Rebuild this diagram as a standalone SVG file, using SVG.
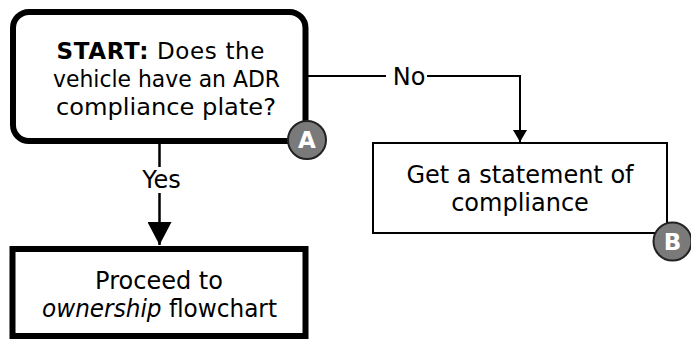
<svg xmlns="http://www.w3.org/2000/svg" width="691" height="343" viewBox="0 0 691 343">
  <style>
    text { font-family: "DejaVu Sans", Verdana, "Liberation Sans", sans-serif; fill: #000; }
    .lbl { font-size: 24px; text-anchor: middle; }
    .q { font-size: 23px; }
    .box { fill: #fff; stroke: #000; }
    .wire { fill: none; stroke: #000; }
    .badge circle { fill: #7a7a7a; stroke: #222; stroke-width: 2; }
    .badge text { fill: #fff; font-weight: bold; font-size: 23px; text-anchor: middle; }
  </style>
  <defs>
    <marker id="headBig" markerUnits="userSpaceOnUse" markerWidth="24" markerHeight="24" viewBox="0 0 22 23" refX="22" refY="11.5" orient="auto">
      <path d="M0,0 L22,11.5 L0,23 Z" fill="#000"/>
    </marker>
    <marker id="headSmall" markerUnits="userSpaceOnUse" markerWidth="14" markerHeight="14" viewBox="0 0 12 14" refX="12" refY="7" orient="auto">
      <path d="M0,0 L12,7 L0,14 Z" fill="#000"/>
    </marker>
  </defs>

  <!-- connectors -->
  <g id="connectors">
    <g id="edge-yes">
      <path class="wire" stroke-width="2.5" d="M159.5,144 V167"/>
      <path class="wire" stroke-width="2.5" d="M159.5,193 V245" marker-end="url(#headBig)"/>
      <text class="lbl" x="161.5" y="188">Yes</text>
    </g>
    <g id="edge-no">
      <path class="wire" stroke-width="2" d="M308,76 H386"/>
      <path class="wire" stroke-width="2" d="M427,76 H520 V142" marker-end="url(#headSmall)"/>
      <text class="lbl" x="409" y="85">No</text>
    </g>
  </g>

  <!-- decision: start -->
  <g id="node-start">
    <rect class="box" x="13" y="12" width="292.5" height="129" rx="16" stroke-width="6"/>
    <text class="lbl q" x="160.5" y="59" textLength="208"><tspan font-weight="bold">START:</tspan> Does the</text>
    <text class="lbl q" x="166.5" y="87" textLength="227" lengthAdjust="spacingAndGlyphs">vehicle have an ADR</text>
    <text class="lbl q" x="166" y="115" textLength="220" lengthAdjust="spacingAndGlyphs">compliance plate?</text>
    <g class="badge">
      <circle cx="307" cy="140" r="19"/>
      <text x="307" y="148">A</text>
    </g>
  </g>

  <!-- action: statement of compliance -->
  <g id="node-statement">
    <rect class="box" x="373" y="143" width="294" height="90" stroke-width="2"/>
    <text class="lbl" x="520" y="183">Get a statement of</text>
    <text class="lbl" x="520" y="210.5">compliance</text>
    <g class="badge">
      <circle cx="672.5" cy="241.5" r="19"/>
      <text x="672.5" y="249.5">B</text>
    </g>
  </g>

  <!-- action: ownership flowchart -->
  <g id="node-ownership">
    <rect class="box" x="12.5" y="249" width="293" height="87" stroke-width="6"/>
    <text class="lbl" x="159" y="289">Proceed to</text>
    <text class="lbl" x="159.5" y="316.5" textLength="235" lengthAdjust="spacingAndGlyphs"><tspan font-style="italic">ownership</tspan> flowchart</text>
  </g>
</svg>
